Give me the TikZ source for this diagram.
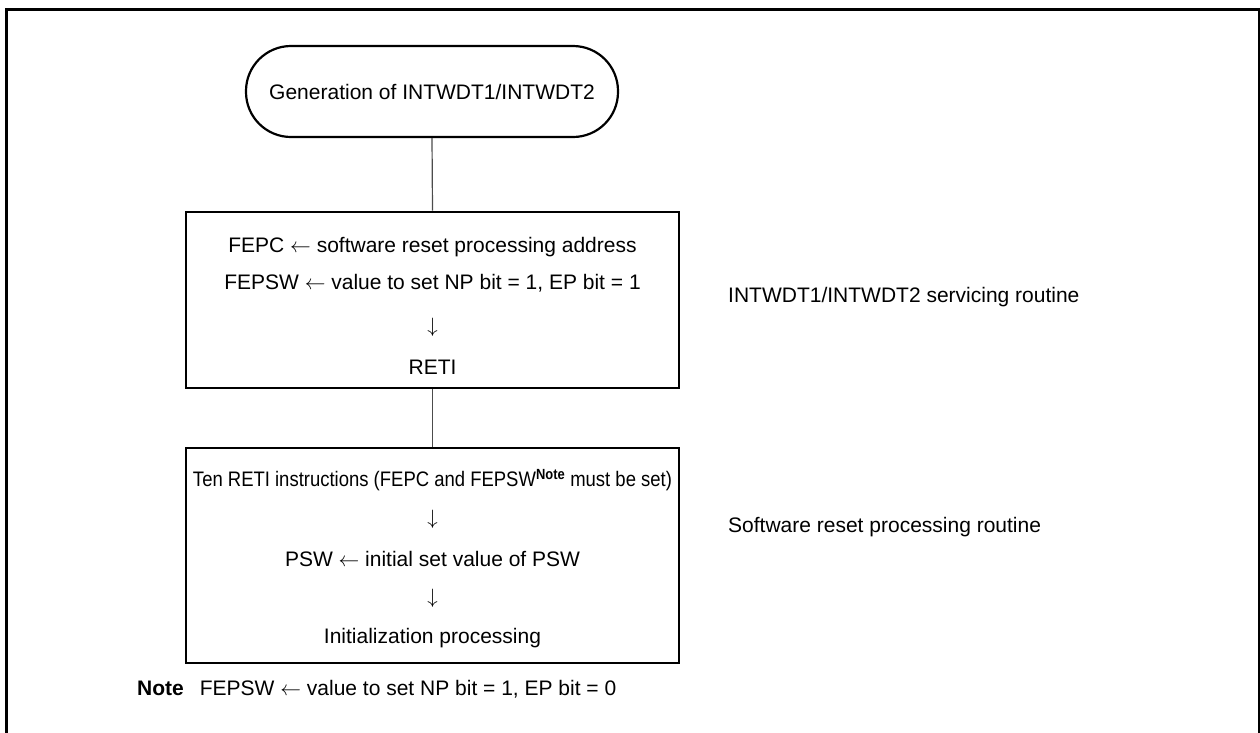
\documentclass[tikz,border=0pt]{standalone}
\usepackage{fontspec}
\setmainfont{Liberation Sans}
\usepackage{graphicx}
\begin{document}
\begin{tikzpicture}[x=1pt,y=-1pt,
  box/.style={draw=black,line width=2.6pt,inner sep=0pt},
  conn/.style={draw=black!70,line width=1.2pt},
  txt/.style={inner sep=0pt,font=\fontsize{21}{25}\selectfont},
  frame/.style={draw=black,line width=2.8pt}]
\useasboundingbox (0,0) rectangle (1260,732);
\clip (0,0) rectangle (1260,732);
\draw[frame] (6.5,760) -- (6.5,9.5) -- (1259.5,9.5) -- (1259.5,760);
% terminal
\node[box,line width=2.2pt,rounded corners=45pt,minimum width=372pt,minimum height=91pt] (term) at (432,91.5) {};
\node[txt] (termtxt) at (term.center) {Generation of INTWDT1/INTWDT2};
% box 1
\node[box,minimum width=493pt,minimum height=176pt] (b1) at (432.5,300) {};
\node[txt] (l1) at (432.5,247) {FEPC $\leftarrow$ software reset processing address};
\node[txt] (l2) at (432.5,283) {FEPSW $\leftarrow$ value to set NP bit = 1, EP bit = 1};
\node[txt] (l3) at (432.5,327) {$\downarrow$};
\node[txt] (l4) at (432.5,367) {RETI};
% box 2
\node[box,minimum width=493pt,minimum height=215pt] (b2) at (432.5,555.5) {};
\node[txt] (m1) at (432.5,480) {\scalebox{0.88}[1]{Ten RETI instructions (FEPC and FEPSW\textsuperscript{\textbf{Note}} must be set)}};
\node[txt] (m2) at (432.5,519.5) {$\downarrow$};
\node[txt] (m3) at (432.5,559) {PSW $\leftarrow$ initial set value of PSW};
\node[txt] (m4) at (432.5,598.5) {$\downarrow$};
\node[txt] (m5) at (432.5,638) {Initialization processing};
% connectors
\draw[conn] (term.south) -- (b1.north);
\draw[conn] (b1.south) -- (b2.north);
% side labels
\node[txt,anchor=west] (s1) at (728,297) {INTWDT1/INTWDT2 servicing routine};
\node[txt,anchor=west] (s2) at (728,527) {Software reset processing routine};
% note
\node[txt,anchor=west] (note) at (137,689) {\textbf{Note}\hspace{16pt}FEPSW $\leftarrow$ value to set NP bit = 1, EP bit = 0};
\end{tikzpicture}
\end{document}
